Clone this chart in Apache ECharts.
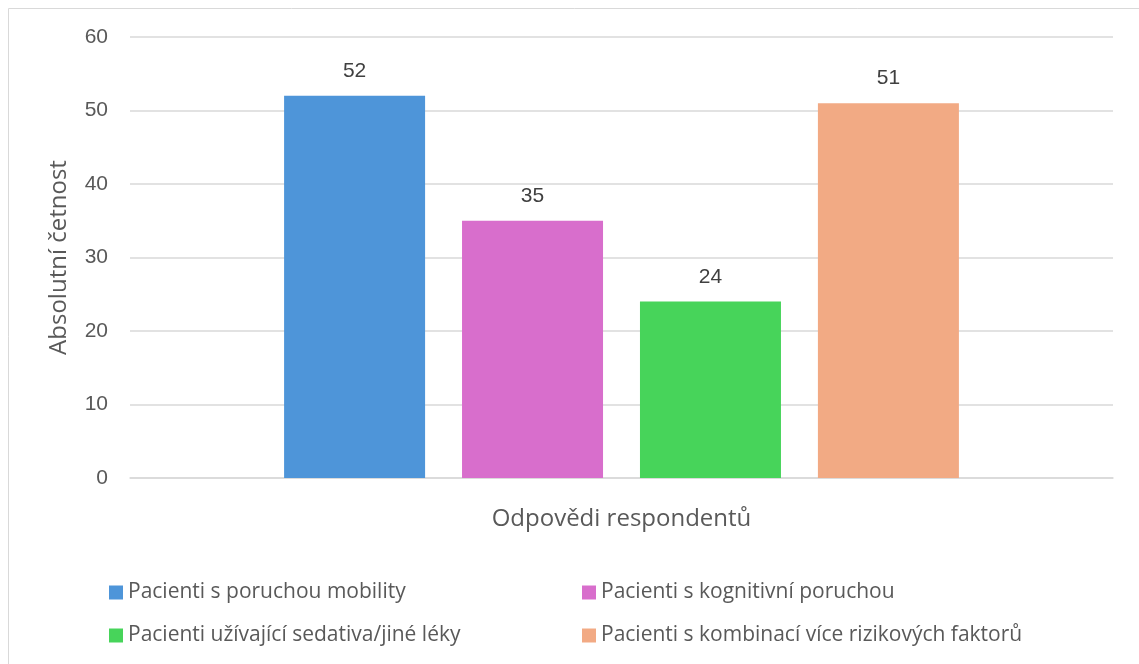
<!DOCTYPE html>
<html>
<head>
<meta charset="utf-8">
<script src="https://cdn.jsdelivr.net/npm/echarts@6/dist/echarts.min.js"></script>
<style>html,body{margin:0;padding:0;background:#fff}#c{width:1139px;height:664px}</style>
</head>
<body>
<div id="c"></div>
<script>
var categories = ['Odpovědi respondentů'];
var seriesNames = ['Pacienti s poruchou mobility', 'Pacienti s kognitivní poruchou', 'Pacienti užívající sedativa/jiné léky', 'Pacienti s kombinací více rizikových faktorů'];
var seriesValues = [[52], [35], [24], [51]];
var colors = ['#4E95D9', '#D86ECC', '#47D45A', '#F2AA84'];
var yTicks = {min: 0, max: 60, interval: 10};

var chart = echarts.init(document.getElementById('c'));
var textFont = '"Open Sans", "Noto Sans", sans-serif';
var numFont = '"Liberation Sans", Arial, sans-serif';
var series = seriesNames.map(function (n, i) {
  return {
    name: n, type: 'bar', data: seriesValues[i],
    barWidth: 141, barGap: '26.2%',
    itemStyle: {color: colors[i]},
    label: {show: true, position: 'top', distance: 14, color: '#404040', fontSize: 21, fontFamily: numFont},
    emphasis: {disabled: true}
  };
});
chart.setOption({
  animation: false,
  color: colors,
  grid: {left: 130, right: 26, top: 37, bottom: 186, containLabel: false},
  graphic: [{type: 'rect', shape: {x: 8.5, y: 8.5, width: 1200, height: 700}, style: {fill: 'none', stroke: '#D9D9D9', lineWidth: 1}, silent: true}],
  xAxis: {
    type: 'category', data: categories,
    axisLine: {lineStyle: {color: '#D9D9D9', width: 1.5}},
    axisTick: {show: false},
    axisLabel: {show: false},
    name: categories[0], nameLocation: 'middle', nameGap: 29,
    nameTextStyle: {fontSize: 24, color: '#595959', fontFamily: textFont}
  },
  yAxis: {
    type: 'value', min: yTicks.min, max: yTicks.max, interval: yTicks.interval,
    axisLine: {show: false}, axisTick: {show: false},
    axisLabel: {fontSize: 21, color: '#595959', fontFamily: numFont, margin: 22},
    splitLine: {lineStyle: {color: '#D9D9D9', width: 1.5}},
    name: 'Absolutní četnost', nameLocation: 'middle', nameGap: 59, nameRotate: 90,
    nameTextStyle: {fontSize: 24, color: '#595959', fontFamily: textFont}
  },
  legend: [
    {data: [seriesNames[0], seriesNames[2]], orient: 'vertical', left: 104, top: 577, itemWidth: 14, itemHeight: 14, itemGap: 22,
     icon: 'rect', textStyle: {fontSize: 21, color: '#595959', fontFamily: textFont}, selectedMode: false},
    {data: [seriesNames[1], seriesNames[3]], orient: 'vertical', left: 577, top: 577, itemWidth: 14, itemHeight: 14, itemGap: 22,
     icon: 'rect', textStyle: {fontSize: 21, color: '#595959', fontFamily: textFont}, selectedMode: false}
  ],
  series: series
});
</script>
</body>
</html>
